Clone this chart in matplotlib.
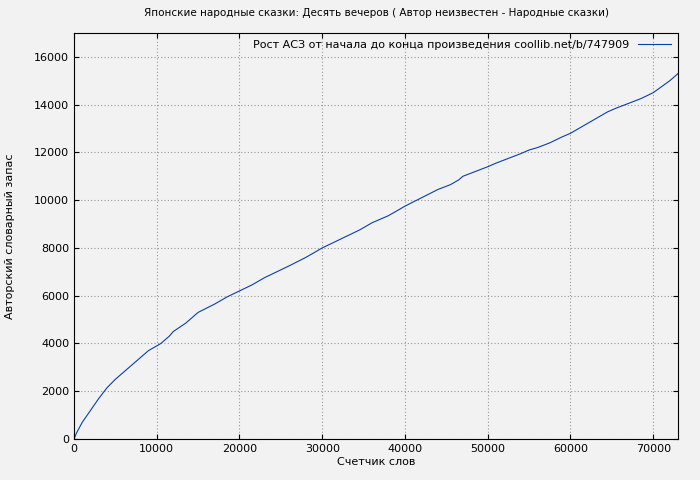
import matplotlib
matplotlib.use("Agg")
import matplotlib.pyplot as plt

words = [0, 300, 1000, 2000, 3000, 4000, 5000, 6000, 7000, 8000, 9000, 10500, 11500, 12000, 13500, 15000, 17000, 18500, 20000, 21500, 23000, 24500, 26000, 28000, 30000, 31500, 33000, 34500, 36000, 38000, 39000, 40000, 42000, 44000, 45500, 46500, 47000, 48500, 50000, 51000, 52500, 54000, 55000, 56000, 57500, 59000, 60000, 61500, 63000, 64500, 65500, 67000, 68500, 70000, 71000, 72000, 73000]
vocab = [0, 250, 700, 1200, 1700, 2150, 2500, 2800, 3100, 3400, 3700, 4000, 4300, 4500, 4850, 5300, 5650, 5950, 6200, 6450, 6750, 7000, 7250, 7600, 8000, 8250, 8500, 8750, 9050, 9350, 9550, 9750, 10100, 10450, 10650, 10850, 11000, 11200, 11400, 11550, 11750, 11950, 12100, 12200, 12400, 12650, 12800, 13100, 13400, 13700, 13850, 14050, 14250, 14500, 14750, 15000, 15300]

plt.rcParams['font.size'] = 8
fig = plt.figure(figsize=(7, 4.8), dpi=100, facecolor='#f2f2f2')
ax = fig.add_axes([74/700, 41/480, 604/700, 406/480], facecolor='#f2f2f2')
ax.plot(words, vocab, color='#0b3fa8', lw=0.8,
        label='Рост АСЗ от начала до конца произведения coollib.net/b/747909')
ax.set_xlim(0, 73000)
ax.set_ylim(0, 17000)
ax.set_xticks(range(0, 70001, 10000))
ax.set_yticks(range(0, 16001, 2000))
ax.grid(True, color='#999999', ls=(0, (1, 2)), lw=0.8)
ax.tick_params(direction='in', top=True, right=True)
ax.set_xlabel('Счетчик слов', labelpad=2)
ax.set_ylabel('Авторский словарный запас', labelpad=14)
ax.set_title('Японские народные сказки: Десять вечеров ( Автор неизвестен - Народные сказки)', fontsize=7.5, pad=12)
ax.legend(loc='upper right', frameon=False, markerfirst=False, handlelength=3, borderaxespad=0.2)
fig.savefig('out.png', facecolor='#f2f2f2')
